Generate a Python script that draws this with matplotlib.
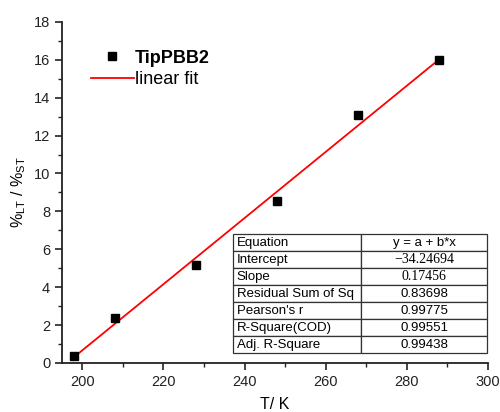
import matplotlib.pyplot as plt
from matplotlib.lines import Line2D

plt.rcParams['font.family'] = ['Liberation Sans', 'DejaVu Sans']

temps = [198, 208, 228, 248, 268, 288]
ratio = [0.39, 2.38, 5.17, 8.57, 13.09, 15.96]

intercept = -34.24694
slope = 0.17456
fit_x = [198, 288]
fit_y = [intercept + slope * t for t in fit_x]

table_rows = [
    ["Equation", "y = a + b*x"],
    ["Intercept", "\u221234.24694"],
    ["Slope", "0.17456"],
    ["Residual Sum of Sq", "0.83698"],
    ["Pearson's r", "0.99775"],
    ["R-Square(COD)", "0.99551"],
    ["Adj. R-Square", "0.99438"],
]

fig = plt.figure(figsize=(5, 4.12), dpi=100)
ax = fig.add_axes([0.124, 0.119, 0.852, 0.828])

ax.plot(fit_x, fit_y, color='red', lw=1.3, zorder=2)
ax.plot(temps, ratio, 's', color='black', ms=5.8, zorder=3)

ax.set_xlim(195, 300)
ax.set_ylim(0, 18)
ax.set_xticks(range(200, 301, 20))
ax.set_xticks(range(200, 301, 10), minor=True)
ax.set_yticks(range(0, 19, 2))
ax.set_yticks(range(0, 19, 1), minor=True)
ax.spines['top'].set_visible(False)
ax.spines['right'].set_visible(False)
for s in ['left', 'bottom']:
    ax.spines[s].set_linewidth(1.3)
    ax.spines[s].set_color('#222222')
ax.tick_params(which='major', direction='out', length=5, width=1.2, labelsize=10.5, colors='#222222')
ax.tick_params(which='minor', direction='out', length=3, width=1.0, colors='#222222')

ax.set_xlabel('T/ K', fontsize=11.5, labelpad=6)
ax.set_ylabel('%$_\\mathregular{LT}$ / %$_\\mathregular{ST}$', fontsize=11.5, labelpad=4)

handles = [
    Line2D([], [], marker='s', color='black', ls='none', ms=5.8),
    Line2D([], [], color='red', lw=1.3),
]
leg = ax.legend(handles, ['TipPBB2', 'linear fit'], loc='upper left',
                bbox_to_anchor=(0.05, 0.94), frameon=False, fontsize=13,
                handlelength=2.4, handletextpad=0.05, labelspacing=0.25,
                borderaxespad=0)
leg.get_texts()[0].set_fontweight('bold')

tbl = ax.table(cellText=table_rows, colWidths=[0.504, 0.496],
               bbox=[0.401, 0.029, 0.597, 0.349], zorder=4)
tbl.auto_set_font_size(False)
for (r, c), cell in tbl.get_celld().items():
    cell.set_linewidth(0.9)
    cell.set_edgecolor('#333333')
    txt = cell.get_text()
    txt.set_fontsize(9.5)
    if c == 0:
        txt.set_ha('left')
        cell.PAD = 0.03
    else:
        txt.set_ha('center')
        if r in (1, 2):
            txt.set_family('Liberation Serif')
            txt.set_fontsize(10)

fig.savefig('out.png', dpi=100)
